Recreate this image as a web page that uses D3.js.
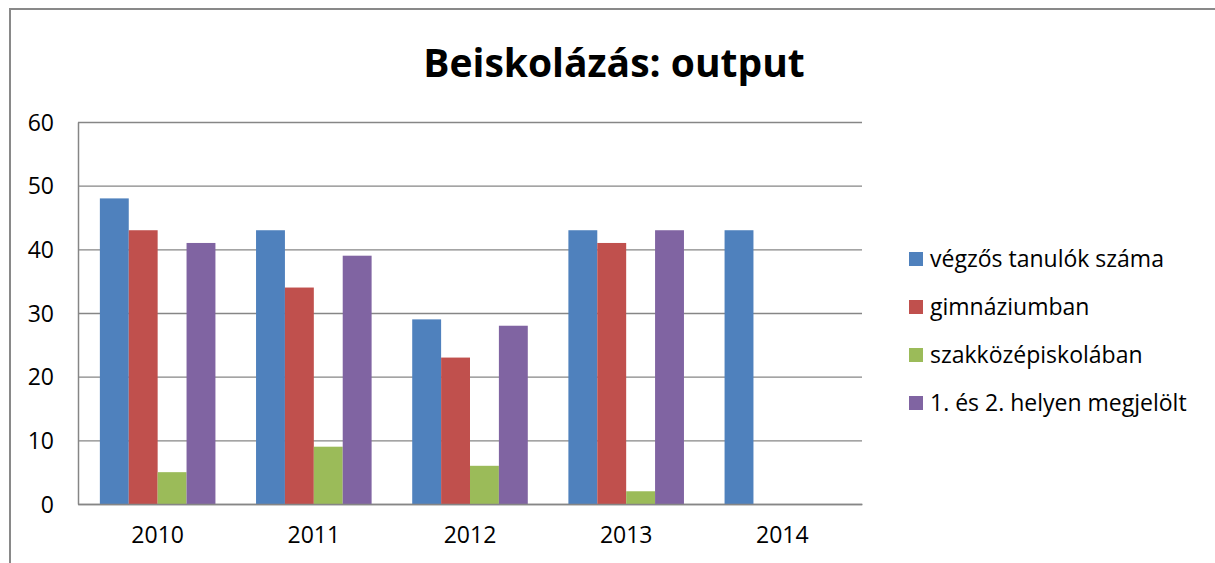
<!DOCTYPE html>
<html>
<head>
<meta charset="utf-8">
<script src="https://cdn.jsdelivr.net/npm/d3@7"></script>
<style>
  body { margin: 0; background: #fff; }
  svg text { font-family: "Open Sans", "Noto Sans", sans-serif; fill: #000; }
</style>
</head>
<body>
<div id="chart"></div>
<script>
// data
var years = ['2010', '2011', '2012', '2013', '2014'];
var seriesNames = ['végzős tanulók száma', 'gimnáziumban', 'szakközépiskolában', '1. és 2. helyen megjelölt'];
var vegzos = [48, 43, 29, 43, 43];
var gimnazium = [43, 34, 23, 41, null];
var szakkozep = [5, 9, 6, 2, null];
var megjelolt = [41, 39, 28, 43, null];
var yTicks = [0, 10, 20, 30, 40, 50, 60];
var colors = ['#4F81BD', '#C0504D', '#9BBB59', '#8064A2'];

var allSeries = [vegzos, gimnazium, szakkozep, megjelolt];

var width = 1215, height = 563;
var margin = {t: 122, r: 353, b: 59, l: 78}; // plot area
var plotW = width - margin.l - margin.r,
    plotH = height - margin.t - margin.b;

var svg = d3.select('#chart')
    .append('svg')
    .attr('width', width)
    .attr('height', height);

// outer frame (only top + left show in the picture)
svg.append('path')
    .attr('d', 'M10,' + height + 'V9H' + width)
    .attr('fill', 'none')
    .attr('stroke', '#898989')
    .attr('stroke-width', 2);

// title
svg.append('text')
    .attr('x', 614)
    .attr('y', 77)
    .attr('text-anchor', 'middle')
    .style('font-size', '39px')
    .style('font-weight', 'bold')
    .text('Beiskolázás: output');

var plot = svg.append('g')
    .attr('transform', 'translate(' + margin.l + ',' + margin.t + ')');

var x0 = d3.scaleBand().domain(years).range([0, plotW]).paddingInner(0.26).paddingOuter(0.14);
var x1 = d3.scaleBand().domain(d3.range(4)).range([0, x0.bandwidth()]);
var y = d3.scaleLinear().domain([0, 60]).range([plotH, 0]);

// gridlines
plot.selectAll('.grid')
    .data(yTicks)
    .enter().append('line')
    .attr('x1', 0).attr('x2', plotW)
    .attr('y1', function(d){ return y(d) + 0.5; })
    .attr('y2', function(d){ return y(d) + 0.5; })
    .attr('stroke', '#868686')
    .attr('stroke-width', 1.3);

// bars
var groups = plot.selectAll('.year')
    .data(years)
    .enter().append('g')
    .attr('transform', function(d){ return 'translate(' + x0(d) + ',0)'; });

groups.selectAll('rect')
    .data(function(d, i){
        return allSeries.map(function(s, k){ return {k: k, v: s[i]}; })
            .filter(function(e){ return e.v != null; });
    })
    .enter().append('rect')
    .attr('x', function(d){ return x1(d.k); })
    .attr('width', x1.bandwidth())
    .attr('y', function(d){ return y(d.v); })
    .attr('height', function(d){ return y(0) - y(d.v); })
    .attr('fill', function(d){ return colors[d.k]; });

// axes
var yAxis = plot.append('g')
    .call(d3.axisLeft(y).tickValues(yTicks).tickSize(0).tickPadding(24));
yAxis.select('.domain').attr('stroke', '#868686').attr('stroke-width', 1.5);
yAxis.selectAll('text').style('font-size', '23px').attr('dy', '0.35em');

var xAxis = plot.append('g')
    .attr('transform', 'translate(0,' + plotH + ')')
    .call(d3.axisBottom(x0).tickSize(0).tickPadding(23));
xAxis.select('.domain').attr('stroke', '#868686').attr('stroke-width', 1.5);
xAxis.selectAll('text').style('font-size', '23px');

// legend
var legend = svg.append('g')
    .attr('transform', 'translate(909,259)');
var items = legend.selectAll('.item')
    .data(seriesNames)
    .enter().append('g')
    .attr('transform', function(d, i){ return 'translate(0,' + (i * 48) + ')'; });
items.append('rect')
    .attr('x', 0).attr('y', -7)
    .attr('width', 14).attr('height', 14)
    .attr('fill', function(d, i){ return colors[i]; });
items.append('text')
    .attr('x', 21)
    .attr('dy', '0.35em')
    .style('font-size', '23px')
    .text(function(d){ return d; });
</script>
</body>
</html>
